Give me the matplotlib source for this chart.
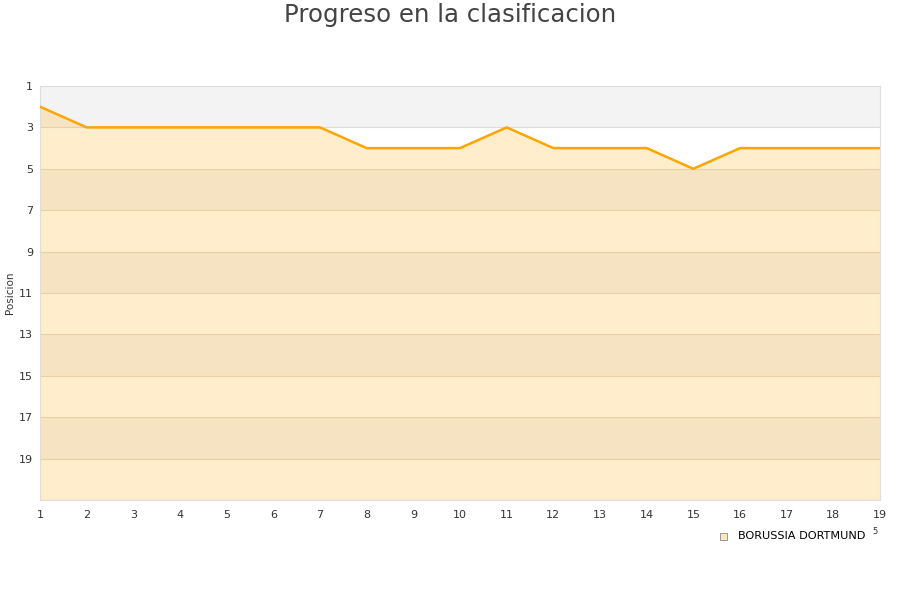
import matplotlib
matplotlib.use("Agg")
import matplotlib.pyplot as plt
from matplotlib.patches import Rectangle

jornadas = list(range(1, 20))
posiciones = [2, 3, 3, 3, 3, 3, 3, 4, 4, 4, 3, 4, 4, 4, 5, 4, 4, 4, 4]
y_ticks = [1, 3, 5, 7, 9, 11, 13, 15, 17, 19]
team = "BORUSSIA DORTMUND"
title = "Progreso en la clasificacion"

fig = plt.figure(figsize=(9, 6), dpi=100)
ax = fig.add_axes([40/900, 1-500/600, 840/900, 414/600])

ax.set_xlim(1, 19)
ax.set_ylim(21, 1)

# alternating bands
for i, y0 in enumerate(range(1, 21, 2)):
    col = "#f3f3f3" if i % 2 == 0 else "#ffffff"
    ax.axhspan(y0, y0 + 2, color=col, zorder=0, lw=0)
for y in y_ticks[1:]:
    ax.axhline(y, color="#e4dccf", lw=0.8, zorder=1)

ax.fill_between(jornadas, posiciones, 21, color="#ffa500", alpha=0.2, lw=0, zorder=2)
ax.plot(jornadas, posiciones, color="#ffa500", lw=1.8, zorder=3)

ax.set_yticks(y_ticks)
ax.set_xticks(jornadas)
ax.tick_params(length=0, labelsize=8, colors="#333333")
ax.tick_params(axis="x", pad=7)
ax.tick_params(axis="y", pad=5)
for s in ax.spines.values():
    s.set_color("#dddddd")

fig.text(10/900, 1-293/600, "Posicion", rotation=90, fontsize=7.5, color="#333333",
         ha="center", va="center")
fig.text(0.5, 1-15/600, title, fontsize=17.6, color="#444444", ha="center", va="center")

# legend
fig.patches.append(Rectangle((720/900, 1-540/600), 7/900, 7/600, transform=fig.transFigure,
                             facecolor="#fde7c0", edgecolor="#888888", lw=0.6))
fig.text(738/900, 1-536/600, team, fontsize=8.1, color="#000000", ha="left", va="center")
fig.text(875/900, 1-532/600, "5", fontsize=6, color="#333333", ha="center", va="center")

fig.savefig("out.png", dpi=100)
